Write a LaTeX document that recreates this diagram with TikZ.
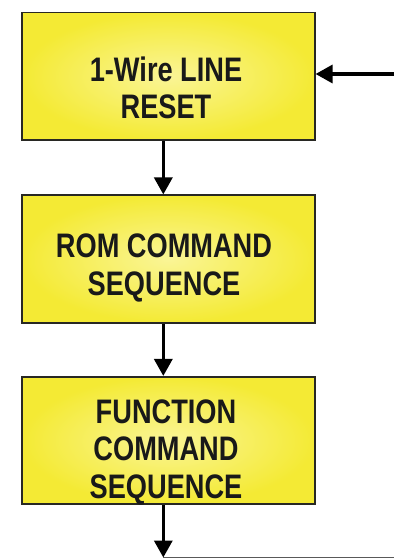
\documentclass[tikz,border=0pt]{standalone}
\usepackage{fontspec}
\setmainfont{Liberation Sans}[FakeStretch=0.8]
\usetikzlibrary{arrows.meta}
\definecolor{boxedge}{RGB}{40,40,35}
\definecolor{boxouter}{RGB}{244,234,52}
\definecolor{boxinner}{RGB}{250,245,150}
\tikzset{
  stepbox/.style={rectangle, draw=boxedge, line width=1.6pt,
    inner color=boxinner, outer color=boxouter,
    minimum width=293pt, minimum height=127.5pt, inner sep=0pt},
  steptext/.style={align=center, font=\fontsize{34}{37.5}\selectfont\bfseries,
    text=black!90, inner sep=0pt},
  flow/.style={line width=3.4pt, -{Triangle[width=18pt,length=17pt]}},
  baseline/.style={line width=1pt, draw=black!65}
}
\begin{document}
\begin{tikzpicture}[x=1pt,y=-1pt]
  \useasboundingbox (0,0) rectangle (394,559);

  % flow-chart boxes
  \node[stepbox] (reset) at (168.3,76.2) {};
  \node[stepbox] (rom)   at (168.3,259)  {};
  \node[stepbox] (func)  at (168.3,440.5) {};

  % box captions, set slightly below the box centres
  \node[steptext] (resettxt) at (166,88) {1-Wire LINE\\RESET};
  \node[steptext] (romtxt)   at (164,268) {ROM COMMAND\\SEQUENCE};
  \node[steptext] (functxt)  at (166,452) {FUNCTION\\COMMAND\\SEQUENCE};

  % column of the vertical connectors and the free ends
  \coordinate (col) at (163.3,0);
  \coordinate (entry) at (394,74);
  \coordinate (exit) at (163.3,557.5);
  \coordinate (lineend) at (394,557.5);

  % connectors
  \draw[flow] (entry) -- (reset.east |- entry);
  \draw[flow] (reset.south -| col) -- (rom.north -| col);
  \draw[flow] (rom.south -| col) -- (func.north -| col);
  \draw[flow] (func.south -| col) -- (exit);
  \draw[baseline] (exit) -- (lineend);
\end{tikzpicture}
\end{document}
